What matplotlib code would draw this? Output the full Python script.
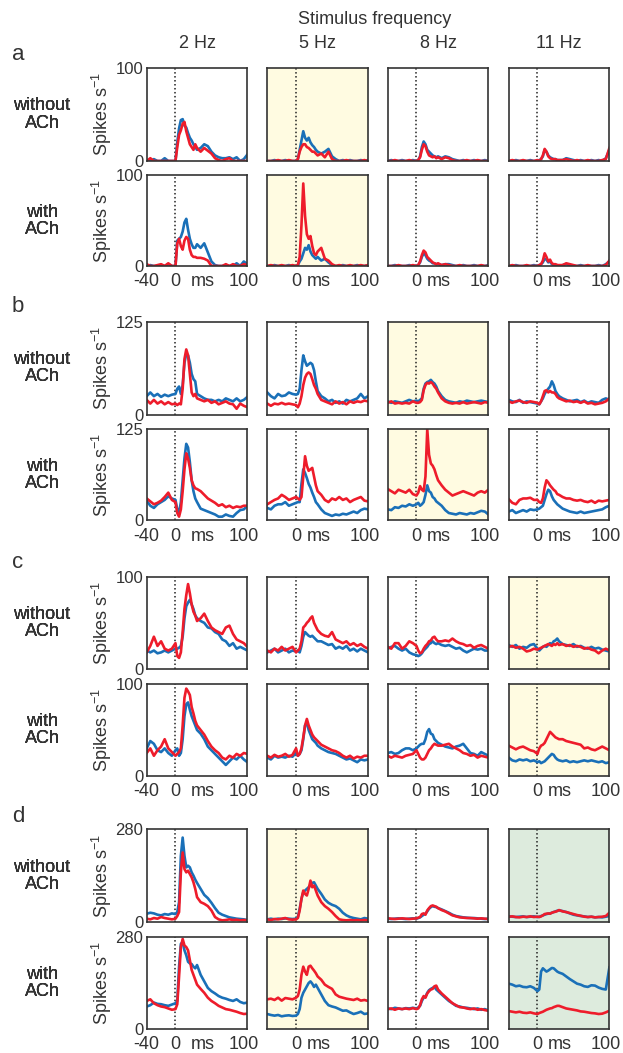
import numpy as np
import matplotlib
matplotlib.use("Agg")
import matplotlib.pyplot as plt

# =========================
# DATA (spikes/s)
# =========================
T_MS = [-40, -35, -30, -25, -20, -15, -10, -5, 0, 2.5, 5, 7.5, 10, 12.5, 15, 17.5,
        20, 22.5, 25, 27.5, 30, 35, 40, 45, 50, 55, 60, 65, 70, 75, 80, 85, 90, 95, 100]

FREQS = ["2 Hz", "5 Hz", "8 Hz", "11 Hz"]
GROUPS = ["a", "b", "c", "d"]
Y_MAX = [100, 125, 100, 280]
ROW_NAMES = ["without\nACh", "with\nACh"]

# group a
a_wo_2hz_blue = [0, 0, 2, 0, 0, 3, 0, 0, 0, 20, 35, 44, 45, 38, 36, 30, 25, 22, 18, 15, 12, 14, 18, 16, 10, 6, 4, 3, 3, 4, 2, 4, 0, 2, 7]
a_wo_2hz_red = [0, 3, 0, 0, 0, 0, 0, 0, 0, 15, 28, 33, 40, 42, 32, 25, 18, 15, 12, 18, 14, 10, 14, 11, 8, 3, 1, 0, 2, 3, 0, 0, 0, 0, 0]
a_wo_5hz_blue = [0, 0, 1, 0, 0, 1, 0, 0, 0, 2, 12, 22, 32, 25, 22, 25, 20, 17, 15, 12, 10, 8, 10, 13, 5, 2, 0, 1, 0, 1, 0, 0, 1, 0, 1]
a_wo_5hz_red = [0, 0, 0, 1, 0, 0, 1, 0, 0, 2, 10, 15, 18, 18, 15, 14, 12, 10, 10, 8, 6, 8, 4, 10, 2, 0, 0, 0, 1, 0, 0, 0, 0, 1, 0]
a_wo_8hz_blue = [0, 1, 0, 0, 1, 0, 0, 1, 0, 1, 5, 15, 21, 18, 12, 10, 8, 6, 5, 4, 5, 3, 5, 4, 2, 1, 0, 1, 0, 0, 1, 0, 0, 1, 0]
a_wo_8hz_red = [0, 0, 1, 0, 0, 0, 1, 0, 0, 1, 4, 12, 18, 16, 10, 6, 5, 4, 5, 3, 4, 2, 4, 3, 1, 0, 0, 0, 1, 0, 0, 1, 0, 0, 0]
a_wo_11hz_blue = [0, 0, 1, 0, 0, 0, 1, 0, 0, 1, 2, 5, 12, 10, 6, 4, 3, 2, 2, 1, 1, 1, 3, 2, 1, 0, 1, 0, 0, 1, 0, 1, 0, 3, 12]
a_wo_11hz_red = [0, 1, 0, 0, 1, 0, 0, 0, 1, 0, 2, 6, 13, 10, 5, 3, 2, 2, 2, 1, 1, 1, 2, 1, 0, 1, 0, 0, 1, 0, 0, 0, 1, 2, 14]
a_w_2hz_blue = [0, 1, 0, 0, 1, 0, 2, 0, 0, 28, 30, 32, 38, 48, 52, 40, 30, 24, 20, 20, 24, 20, 25, 15, 5, 1, 0, 0, 1, 0, 0, 3, 0, 5, 2]
a_w_2hz_red = [2, 0, 0, 1, 2, 0, 3, 0, 0, 25, 30, 22, 18, 28, 32, 30, 18, 12, 10, 10, 9, 9, 8, 6, 0, 0, 0, 0, 2, 0, 2, 0, 0, 2, 1]
a_w_5hz_blue = [0, 0, 1, 0, 0, 0, 1, 0, 0, 1, 5, 8, 14, 20, 18, 23, 16, 12, 10, 8, 10, 6, 8, 4, 1, 0, 0, 1, 0, 0, 0, 1, 0, 0, 1]
a_w_5hz_red = [0, 1, 0, 0, 1, 0, 0, 1, 0, 1, 10, 45, 91, 55, 35, 30, 33, 22, 14, 12, 16, 20, 8, 6, 2, 0, 1, 0, 0, 1, 0, 0, 1, 0, 1]
a_w_8hz_blue = [0, 0, 1, 0, 0, 0, 1, 0, 0, 1, 4, 10, 14, 12, 8, 6, 5, 3, 3, 2, 2, 1, 2, 2, 1, 0, 0, 1, 0, 0, 1, 0, 0, 0, 1]
a_w_8hz_red = [0, 0, 0, 1, 0, 0, 0, 1, 0, 1, 5, 12, 17, 15, 10, 8, 6, 4, 3, 2, 3, 1, 2, 1, 0, 0, 1, 0, 0, 0, 0, 0, 1, 0, 0]
a_w_11hz_blue = [0, 0, 1, 0, 0, 0, 0, 1, 0, 1, 2, 4, 8, 7, 4, 5, 2, 1, 1, 1, 0, 1, 2, 1, 0, 0, 1, 0, 0, 0, 0, 1, 0, 2, 5]
a_w_11hz_red = [0, 1, 0, 0, 0, 1, 0, 0, 0, 1, 2, 6, 14, 10, 5, 7, 3, 2, 2, 1, 1, 1, 3, 2, 1, 0, 0, 0, 1, 0, 0, 0, 0, 1, 6]

# group b
b_wo_2hz_blue = [25, 30, 25, 28, 24, 27, 25, 27, 28, 35, 38, 28, 40, 70, 82, 80, 70, 55, 48, 45, 28, 25, 22, 20, 20, 18, 20, 18, 22, 20, 18, 22, 18, 20, 24]
b_wo_2hz_red = [20, 15, 20, 15, 18, 14, 17, 14, 15, 13, 15, 14, 35, 75, 88, 80, 55, 30, 25, 28, 22, 20, 18, 20, 16, 18, 14, 16, 18, 15, 14, 8, 15, 12, 10]
b_wo_5hz_blue = [30, 25, 22, 28, 25, 26, 30, 28, 27, 28, 35, 60, 80, 72, 66, 68, 70, 68, 60, 45, 32, 25, 22, 18, 20, 16, 18, 15, 20, 18, 20, 22, 28, 22, 25]
b_wo_5hz_red = [15, 12, 15, 14, 16, 14, 15, 14, 13, 10, 15, 25, 40, 50, 55, 57, 55, 48, 40, 35, 28, 20, 18, 16, 14, 18, 15, 17, 14, 18, 16, 18, 17, 19, 18]
b_wo_8hz_blue = [18, 16, 18, 17, 16, 18, 20, 18, 19, 18, 20, 22, 35, 42, 44, 45, 47, 44, 42, 38, 32, 25, 20, 18, 17, 16, 18, 17, 19, 18, 17, 18, 19, 18, 17]
b_wo_8hz_red = [16, 18, 15, 16, 15, 16, 15, 18, 16, 16, 17, 20, 33, 40, 43, 42, 44, 42, 38, 35, 30, 22, 18, 16, 15, 16, 15, 17, 15, 16, 17, 16, 15, 17, 16]
b_wo_11hz_blue = [20, 18, 17, 20, 16, 18, 17, 16, 15, 14, 18, 22, 28, 32, 35, 38, 45, 40, 32, 28, 25, 22, 20, 18, 19, 20, 17, 19, 16, 18, 17, 16, 20, 22, 20]
b_wo_11hz_red = [18, 16, 18, 19, 17, 16, 18, 17, 16, 14, 18, 25, 32, 33, 30, 32, 30, 30, 28, 24, 22, 20, 18, 19, 17, 18, 16, 18, 15, 16, 14, 15, 16, 18, 22]
b_w_2hz_blue = [27, 20, 17, 22, 25, 28, 33, 30, 28, 15, 10, 25, 55, 85, 105, 100, 80, 55, 40, 30, 25, 16, 14, 12, 10, 8, 5, 5, 8, 6, 5, 10, 14, 15, 20]
b_w_2hz_red = [30, 26, 22, 24, 27, 32, 38, 28, 25, 10, 5, 15, 40, 70, 92, 85, 72, 55, 48, 44, 43, 40, 35, 30, 27, 24, 20, 22, 18, 20, 17, 19, 18, 20, 20]
b_w_5hz_blue = [17, 15, 20, 22, 22, 25, 20, 22, 24, 25, 25, 50, 70, 65, 58, 50, 45, 38, 32, 25, 22, 15, 10, 8, 6, 8, 7, 9, 8, 10, 12, 10, 14, 16, 15]
b_w_5hz_red = [22, 25, 28, 30, 35, 32, 28, 30, 32, 30, 28, 32, 60, 88, 75, 68, 70, 72, 60, 48, 40, 35, 28, 25, 30, 28, 32, 28, 30, 25, 28, 30, 32, 27, 26]
b_w_8hz_blue = [15, 14, 18, 17, 20, 19, 22, 20, 22, 24, 20, 22, 25, 35, 48, 40, 38, 32, 30, 26, 24, 20, 14, 10, 9, 8, 10, 9, 8, 10, 9, 11, 13, 12, 8]
b_w_8hz_red = [43, 40, 37, 42, 40, 38, 42, 36, 34, 38, 47, 42, 40, 60, 125, 90, 78, 75, 70, 62, 55, 48, 42, 38, 34, 36, 38, 40, 38, 36, 34, 38, 40, 38, 42]
b_w_11hz_blue = [12, 14, 10, 12, 14, 12, 15, 14, 15, 16, 18, 20, 28, 36, 42, 40, 33, 28, 25, 22, 20, 16, 14, 12, 11, 10, 12, 10, 11, 12, 13, 14, 15, 18, 20]
b_w_11hz_red = [29, 24, 22, 28, 30, 30, 31, 28, 28, 25, 24, 30, 45, 55, 52, 48, 45, 42, 40, 36, 35, 32, 30, 30, 28, 27, 28, 26, 25, 27, 24, 27, 26, 27, 28]

# group c
c_wo_2hz_blue = [20, 18, 20, 17, 18, 20, 18, 20, 22, 22, 23, 25, 35, 55, 68, 72, 75, 70, 65, 58, 55, 52, 50, 45, 44, 40, 38, 32, 30, 25, 28, 22, 24, 22, 20]
c_wo_2hz_red = [18, 25, 35, 25, 30, 22, 20, 22, 28, 14, 12, 18, 40, 65, 80, 92, 82, 70, 62, 58, 52, 55, 60, 52, 45, 42, 40, 38, 45, 47, 38, 32, 30, 28, 24]
c_wo_5hz_blue = [18, 20, 22, 18, 20, 22, 18, 20, 19, 20, 18, 25, 35, 40, 38, 36, 35, 36, 34, 32, 30, 30, 28, 26, 27, 22, 24, 22, 25, 20, 22, 19, 22, 20, 18]
c_wo_5hz_red = [20, 18, 22, 20, 24, 20, 22, 24, 18, 20, 22, 30, 45, 47, 50, 52, 55, 57, 50, 46, 42, 38, 36, 35, 40, 32, 30, 28, 30, 26, 28, 25, 27, 24, 22]
c_wo_8hz_blue = [22, 24, 25, 22, 20, 22, 18, 16, 15, 14, 15, 17, 20, 22, 24, 27, 28, 30, 28, 27, 28, 26, 25, 26, 24, 22, 23, 20, 18, 20, 22, 21, 22, 20, 20]
c_wo_8hz_red = [24, 22, 28, 28, 22, 25, 30, 28, 25, 20, 17, 18, 22, 25, 27, 30, 31, 34, 35, 32, 30, 30, 31, 30, 33, 30, 28, 27, 25, 26, 23, 25, 26, 24, 22]
c_wo_11hz_blue = [26, 24, 26, 22, 24, 23, 26, 27, 22, 20, 22, 24, 25, 24, 26, 28, 27, 30, 31, 33, 30, 27, 26, 25, 27, 24, 25, 23, 22, 24, 22, 23, 21, 20, 19]
c_wo_11hz_red = [24, 25, 23, 24, 22, 19, 20, 22, 21, 22, 23, 24, 25, 26, 27, 26, 25, 27, 26, 28, 26, 27, 25, 26, 24, 25, 24, 22, 23, 21, 20, 17, 20, 22, 20]
c_w_2hz_blue = [30, 38, 35, 28, 26, 30, 25, 22, 28, 30, 22, 25, 40, 65, 78, 80, 72, 65, 60, 55, 50, 46, 40, 32, 28, 24, 20, 16, 12, 16, 20, 18, 22, 18, 15]
c_w_2hz_red = [25, 30, 22, 28, 32, 40, 30, 26, 22, 24, 26, 30, 55, 85, 95, 92, 88, 75, 68, 60, 55, 50, 45, 38, 32, 28, 25, 20, 18, 22, 20, 24, 22, 25, 24]
c_w_5hz_blue = [20, 18, 22, 20, 21, 20, 22, 21, 25, 22, 24, 28, 40, 55, 58, 50, 45, 40, 38, 36, 33, 30, 28, 26, 25, 24, 22, 20, 18, 19, 17, 15, 18, 17, 18]
c_w_5hz_red = [22, 20, 23, 21, 22, 24, 21, 23, 30, 22, 24, 30, 42, 55, 62, 55, 50, 45, 42, 40, 38, 34, 32, 30, 28, 27, 25, 22, 20, 22, 19, 21, 20, 22, 22]
c_w_8hz_blue = [25, 26, 24, 25, 28, 30, 30, 28, 30, 32, 34, 35, 35, 40, 48, 51, 46, 45, 40, 38, 36, 34, 32, 31, 30, 32, 33, 35, 30, 25, 24, 22, 26, 24, 22]
c_w_8hz_red = [22, 20, 22, 21, 20, 22, 23, 24, 28, 24, 20, 18, 18, 20, 24, 28, 30, 33, 35, 34, 33, 33, 34, 35, 32, 30, 28, 25, 24, 22, 23, 20, 22, 21, 20]
c_w_11hz_blue = [20, 17, 16, 18, 17, 18, 16, 17, 15, 16, 14, 15, 16, 18, 20, 22, 24, 23, 20, 18, 17, 16, 17, 15, 16, 15, 16, 17, 16, 17, 16, 15, 16, 14, 15]
c_w_11hz_red = [33, 31, 29, 31, 32, 30, 28, 27, 24, 30, 33, 34, 36, 40, 44, 48, 46, 44, 42, 41, 40, 40, 38, 37, 36, 35, 34, 30, 31, 29, 28, 30, 32, 30, 28]

# group d
d_wo_2hz_blue = [25, 28, 26, 22, 20, 24, 22, 26, 24, 30, 60, 200, 255, 200, 165, 170, 165, 150, 140, 128, 118, 100, 82, 72, 58, 42, 28, 22, 18, 14, 12, 10, 9, 8, 6]
d_wo_2hz_red = [10, 8, 12, 10, 15, 12, 10, 8, 10, 18, 30, 150, 210, 160, 150, 155, 145, 135, 120, 100, 75, 60, 55, 48, 35, 15, 8, 5, 6, 8, 6, 7, 5, 6, 5]
d_wo_5hz_blue = [8, 10, 8, 10, 9, 11, 10, 9, 10, 15, 40, 70, 90, 95, 100, 105, 110, 118, 120, 110, 100, 85, 68, 58, 52, 48, 40, 28, 20, 15, 12, 10, 8, 12, 10]
d_wo_5hz_red = [8, 6, 9, 8, 10, 12, 8, 7, 8, 12, 35, 70, 95, 85, 80, 100, 125, 105, 110, 95, 80, 60, 48, 40, 30, 18, 8, 6, 5, 6, 5, 6, 5, 6, 5]
d_wo_8hz_blue = [10, 9, 10, 11, 10, 9, 10, 11, 10, 12, 14, 18, 22, 25, 32, 40, 45, 48, 46, 45, 42, 38, 33, 28, 22, 18, 16, 14, 13, 12, 12, 11, 10, 9, 10]
d_wo_8hz_red = [11, 10, 9, 10, 11, 10, 9, 10, 11, 13, 15, 24, 26, 22, 35, 42, 48, 50, 48, 46, 42, 36, 32, 26, 20, 17, 14, 13, 12, 12, 11, 10, 11, 10, 9]
d_wo_11hz_blue = [17, 16, 15, 16, 17, 15, 16, 17, 15, 16, 18, 20, 22, 24, 25, 26, 28, 30, 32, 34, 35, 33, 30, 26, 22, 20, 18, 17, 15, 16, 14, 15, 14, 16, 18]
d_wo_11hz_red = [16, 17, 15, 14, 16, 15, 17, 15, 16, 15, 17, 20, 24, 25, 26, 25, 28, 30, 31, 33, 36, 32, 30, 27, 24, 21, 19, 16, 15, 16, 14, 15, 16, 18, 28]
d_w_2hz_blue = [68, 72, 80, 76, 75, 72, 70, 74, 78, 85, 190, 260, 265, 240, 225, 205, 200, 198, 190, 185, 195, 165, 145, 125, 115, 108, 100, 95, 92, 88, 85, 90, 82, 78, 80]
d_w_2hz_red = [85, 90, 78, 72, 68, 66, 62, 58, 60, 75, 160, 250, 275, 255, 250, 240, 210, 180, 165, 150, 135, 122, 110, 95, 85, 78, 70, 65, 60, 58, 55, 52, 48, 45, 46]
d_w_5hz_blue = [45, 42, 40, 42, 38, 40, 41, 39, 40, 45, 60, 95, 110, 120, 130, 140, 145, 138, 128, 135, 125, 105, 85, 72, 68, 65, 60, 55, 56, 50, 45, 48, 52, 45, 47]
d_w_5hz_red = [90, 92, 88, 95, 86, 94, 92, 90, 95, 100, 120, 165, 190, 175, 165, 190, 193, 185, 178, 170, 160, 150, 135, 128, 122, 105, 98, 95, 92, 90, 88, 92, 86, 88, 85]
d_w_8hz_blue = [62, 60, 64, 62, 60, 63, 62, 64, 62, 65, 70, 85, 95, 98, 110, 118, 122, 125, 128, 120, 115, 105, 95, 85, 78, 70, 68, 65, 64, 62, 60, 62, 58, 60, 56]
d_w_8hz_red = [60, 62, 58, 62, 60, 62, 60, 63, 60, 62, 72, 90, 100, 95, 108, 115, 120, 122, 130, 132, 120, 108, 98, 88, 78, 72, 66, 65, 62, 60, 62, 58, 60, 57, 55]
d_w_11hz_blue = [138, 135, 130, 132, 128, 127, 130, 125, 115, 120, 175, 185, 180, 175, 178, 182, 186, 185, 180, 175, 172, 168, 160, 152, 145, 138, 135, 130, 128, 133, 132, 126, 122, 120, 188]
d_w_11hz_red = [54, 52, 50, 52, 49, 48, 50, 47, 45, 48, 50, 52, 55, 58, 60, 62, 63, 66, 68, 70, 70, 66, 62, 60, 58, 56, 53, 52, 50, 48, 47, 45, 46, 50, 55]

ROWS = [
    [(a_wo_2hz_blue, a_wo_2hz_red), (a_wo_5hz_blue, a_wo_5hz_red), (a_wo_8hz_blue, a_wo_8hz_red), (a_wo_11hz_blue, a_wo_11hz_red)],
    [(a_w_2hz_blue, a_w_2hz_red), (a_w_5hz_blue, a_w_5hz_red), (a_w_8hz_blue, a_w_8hz_red), (a_w_11hz_blue, a_w_11hz_red)],
    [(b_wo_2hz_blue, b_wo_2hz_red), (b_wo_5hz_blue, b_wo_5hz_red), (b_wo_8hz_blue, b_wo_8hz_red), (b_wo_11hz_blue, b_wo_11hz_red)],
    [(b_w_2hz_blue, b_w_2hz_red), (b_w_5hz_blue, b_w_5hz_red), (b_w_8hz_blue, b_w_8hz_red), (b_w_11hz_blue, b_w_11hz_red)],
    [(c_wo_2hz_blue, c_wo_2hz_red), (c_wo_5hz_blue, c_wo_5hz_red), (c_wo_8hz_blue, c_wo_8hz_red), (c_wo_11hz_blue, c_wo_11hz_red)],
    [(c_w_2hz_blue, c_w_2hz_red), (c_w_5hz_blue, c_w_5hz_red), (c_w_8hz_blue, c_w_8hz_red), (c_w_11hz_blue, c_w_11hz_red)],
    [(d_wo_2hz_blue, d_wo_2hz_red), (d_wo_5hz_blue, d_wo_5hz_red), (d_wo_8hz_blue, d_wo_8hz_red), (d_wo_11hz_blue, d_wo_11hz_red)],
    [(d_w_2hz_blue, d_w_2hz_red), (d_w_5hz_blue, d_w_5hz_red), (d_w_8hz_blue, d_w_8hz_red), (d_w_11hz_blue, d_w_11hz_red)],
]

# shaded panels: (group index, column index) -> colour
SHADE = {(0, 1): "#fffbe1", (1, 2): "#fffbe1", (2, 3): "#fffbe1",
         (3, 1): "#fffbe1", (3, 3): "#ddebdd"}

# =========================
# STYLE / LAYOUT
# =========================
BLUE = "#1a70b8"
RED = "#ee1c2b"
TXT = "#333333"
W, H = 623, 1053
COL_LEFT = [146.7, 267.3, 387.7, 508.7]
COL_W = 100.7
ROW_TOP = [68, 175.3, 322, 429.3, 576.7, 684, 829.3, 937.3]
ROW_BOT = [161, 266, 414.7, 520.3, 669, 776, 922, 1028.7]

plt.rcParams["font.family"] = ["Liberation Sans", "DejaVu Sans"]
plt.rcParams["mathtext.default"] = "regular"
FS = 13

fig = plt.figure(figsize=(W / 100, H / 100), dpi=100)
t = np.array(T_MS)

for r in range(8):
    g = r // 2
    for c in range(4):
        left = COL_LEFT[c] / W
        bottom = 1 - ROW_BOT[r] / H
        height = (ROW_BOT[r] - ROW_TOP[r]) / H
        ax = fig.add_axes([left, bottom, COL_W / W, height])
        ax.set_facecolor(SHADE.get((g, c), "white"))
        blue, red = ROWS[r][c]
        ax.axvline(0, color="#222222", lw=1.1, ls=(0, (1, 1.6)), zorder=1)
        ax.plot(t, blue, color=BLUE, lw=1.9, zorder=2, solid_joinstyle="round")
        ax.plot(t, red, color=RED, lw=1.9, zorder=3, solid_joinstyle="round")
        ax.set_xlim(-40, 100)
        ax.set_ylim(0, Y_MAX[g])
        for s in ax.spines.values():
            s.set_color("#333333")
            s.set_linewidth(1.2)
            s.set_zorder(5)
        ax.tick_params(length=0, colors=TXT, labelsize=FS)
        if c == 0:
            ax.set_yticks([0, Y_MAX[g]])
            ax.set_yticklabels(["0", str(Y_MAX[g])])
            ax.tick_params(axis="y", pad=2.5, labelsize=12)
            fig.text(102 / W, 1 - (ROW_TOP[r] + ROW_BOT[r]) / 2 / H, "Spikes s$^{-1}$",
                     rotation=90, ha="center", va="center", fontsize=FS, color=TXT)
        else:
            ax.set_yticks([])
        if r % 2 == 1:
            if c == 0:
                ax.set_xticks([-40, 0, 38, 95])
                ax.set_xticklabels(["-40", "0", "ms", "100"])
            else:
                ax.set_xticks([0, 31, 95])
                ax.set_xticklabels(["0", "ms", "100"])
            ax.tick_params(axis="x", pad=5.2)
        else:
            ax.set_xticks([])
        fig.text(42 / W, 1 - (ROW_TOP[r] + ROW_BOT[r]) / 2 / H, ROW_NAMES[r % 2],
                 ha="center", va="center", fontsize=FS, color=TXT, linespacing=1.0)

fig.text(374.5 / W, 1 - 20 / H, "Stimulus frequency", ha="center", va="center",
         fontsize=FS, color=TXT)
for c, f in enumerate(FREQS):
    fig.text((COL_LEFT[c] + COL_W / 2) / W, 1 - 44 / H, f, ha="center", va="center",
             fontsize=FS, color=TXT)
for y, lab in zip([55, 306, 563, 816], GROUPS):
    fig.text(18 / W, 1 - y / H, lab, ha="center", va="center", fontsize=16, color=TXT)

fig.savefig("out.png", dpi=100)
